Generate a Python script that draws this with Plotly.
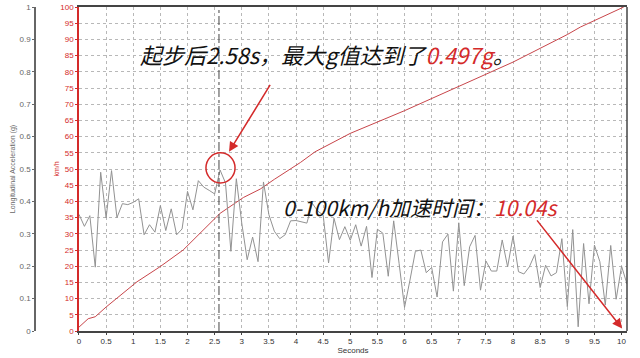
import plotly.graph_objects as go

# ---- data ----
accel_time = [round(i * 0.1, 1) for i in range(102)]
accel_g = [0.360, 0.323, 0.356, 0.197, 0.490, 0.349, 0.495, 0.350, 0.393, 0.390,
           0.397, 0.408, 0.297, 0.328, 0.305, 0.387, 0.310, 0.377, 0.297, 0.315,
           0.431, 0.374, 0.464, 0.444, 0.434, 0.423, 0.497, 0.457, 0.246, 0.470,
           0.333, 0.220, 0.290, 0.214, 0.460, 0.359, 0.308, 0.285, 0.297, 0.340,
           0.341, 0.337, 0.333, 0.394, 0.370, 0.358, 0.210, 0.348, 0.282, 0.322,
           0.280, 0.328, 0.262, 0.323, 0.165, 0.314, 0.302, 0.169, 0.340, 0.208,
           0.073, 0.157, 0.246, 0.250, 0.180, 0.196, 0.105, 0.275, 0.299, 0.123,
           0.334, 0.140, 0.260, 0.295, 0.126, 0.216, 0.185, 0.185, 0.281, 0.198,
           0.293, 0.183, 0.176, 0.198, 0.236, 0.134, 0.203, 0.170, 0.180, 0.285,
           0.075, 0.313, 0.013, 0.270, 0.084, 0.265, 0.214, 0.080, 0.264, 0.098,
           0.200, 0.145]

speed_time = [0, 0.17, 0.3, 0.5, 1.07, 1.49, 1.92, 2.29, 2.6, 3.03, 3.34, 3.6,
              4.08, 4.35, 5.0, 6.0, 7.0, 8.0, 9.0, 9.24, 10.04]
speed_kmh = [1.2, 3.8, 4.4, 7.4, 15.2, 19.8, 25.0, 31.2, 36.3, 41.2, 43.8, 46.8,
             52.0, 55.3, 61.0, 68.0, 75.5, 83.0, 91.5, 93.8, 100.0]

peak_time = 2.58
peak_g = 0.497
accel_0_100 = 10.04

x_ticks = [i * 0.5 for i in range(21)]
kmh_ticks = list(range(0, 101, 5))
g_ticks = [round(i * 0.1, 1) for i in range(11)]

RED = "#d42a2a"
LINE_RED = "#c8454a"
GRAY = "#929292"
GRID = "#b8b8b8"

fig = go.Figure()
fig.add_trace(go.Scatter(x=speed_time, y=speed_kmh, mode="lines",
                         line=dict(color=LINE_RED, width=1), yaxis="y",
                         showlegend=False, hoverinfo="skip"))
fig.add_trace(go.Scatter(x=accel_time, y=accel_g, mode="lines",
                         line=dict(color=GRAY, width=1), yaxis="y2",
                         showlegend=False, hoverinfo="skip"))

tickfont = dict(family="Liberation Sans, Arial", size=8)

fig.update_layout(
    width=640, height=358,
    margin=dict(l=35, r=13, t=7, b=27),
    paper_bgcolor="white", plot_bgcolor="white",
    xaxis=dict(domain=[0.0743, 1], range=[0, 10.1], tickvals=x_ticks,
               ticktext=[("%g" % v) for v in x_ticks], automargin=False,
               showgrid=True, gridcolor=GRID, griddash="dot", gridwidth=1,
               showline=True, linecolor="#444444", linewidth=1.5, mirror=True,
               ticks="outside", ticklen=2, tickcolor="#444444",
               tickfont=dict(tickfont, color="#333333"), zeroline=False,
               title=dict(text="Seconds", font=dict(tickfont, color="#333333"), standoff=0)),
    yaxis=dict(range=[0, 100], tickvals=kmh_ticks, showgrid=True, gridcolor=GRID,
               griddash="dot", showline=True, linecolor=RED, linewidth=1.5,
               ticks="outside", ticklen=2, tickcolor=RED, zeroline=False,
               automargin=False, tickfont=dict(tickfont, color=RED),
               title=dict(text="km/h", font=dict(family="Liberation Sans, Arial", size=7, color=RED),
                          standoff=0)),
    yaxis2=dict(range=[0, 1], tickvals=g_ticks, overlaying="y", anchor="free",
                position=0, side="left", showgrid=False, zeroline=False,
                showline=True, linecolor="#666666", linewidth=1.5, automargin=False,
                ticks="outside", ticklen=2, tickcolor="#666666",
                tickfont=dict(tickfont, color="#666666"),
                title=dict(text="Longitudinal Acceleration (g)",
                           font=dict(family="Liberation Sans, Arial", size=7, color="#666666"),
                           standoff=2)),
)

# peak marker line
fig.add_shape(type="line", x0=peak_time, x1=peak_time, y0=0, y1=100, xref="x", yref="y",
              line=dict(color="#444444", width=1, dash="dashdot"))
# circle around peak
fig.add_shape(type="circle", xref="x", yref="y", x0=2.34, x1=2.876, y0=45.7, y1=55.0,
              line=dict(color=RED, width=1.5))

cjk = "Noto Sans CJK SC"
fig.add_annotation(x=4.58, y=85.4, xref="x", yref="y", showarrow=False,
                   text="<i>起步后%.2fs，最大g值达到了<span style='color:%s'>%.3fg</span>。</i>"
                        % (peak_time, RED, peak_g),
                   font=dict(family=cjk, size=22, color="#111111"))
fig.add_annotation(x=6.29, y=38.3, xref="x", yref="y", showarrow=False,
                   text="<i>0-100km/h加速时间：<span style='color:%s'>%.2fs</span></i>"
                        % (RED, accel_0_100),
                   font=dict(family=cjk, size=21, color="#111111"))

# arrows
fig.add_annotation(x=2.765, y=55.3, ax=3.54, ay=76.4, xref="x", yref="y",
                   axref="x", ayref="y", showarrow=True, text="",
                   arrowhead=2, arrowsize=1.3, arrowwidth=1.5, arrowcolor=RED)
fig.add_annotation(x=10.01, y=0.8, ax=8.42, ay=34.6, xref="x", yref="y",
                   axref="x", ayref="y", showarrow=True, text="",
                   arrowhead=2, arrowsize=1.3, arrowwidth=1.5, arrowcolor=RED)

# right frame border
fig.add_shape(type="line", xref="x domain", yref="y domain", x0=1, x1=1, y0=0, y1=1,
              line=dict(color="#444444", width=1.5))

fig.write_html("out.html", config={"displayModeBar": False},
               post_script="document.body.style.margin='0';")
